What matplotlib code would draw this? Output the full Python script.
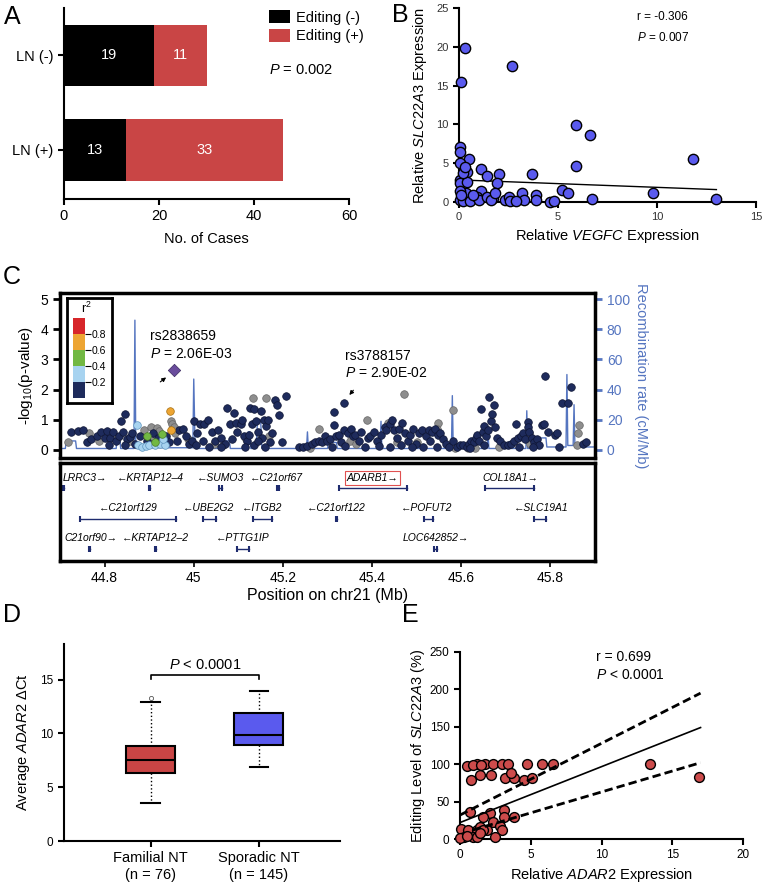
import matplotlib
matplotlib.use("Agg")
import matplotlib.pyplot as plt
import numpy as np
from matplotlib.colors import ListedColormap, BoundaryNorm
from matplotlib.cm import ScalarMappable

plt.rcParams['font.family'] = ['Liberation Sans', 'DejaVu Sans']
plt.rcParams['mathtext.fontset'] = 'custom'
plt.rcParams['mathtext.rm'] = 'Liberation Sans'
plt.rcParams['mathtext.it'] = 'Liberation Sans:italic'
plt.rcParams['mathtext.bf'] = 'Liberation Sans:bold'
plt.rcParams['axes.linewidth'] = 1.5

# ---------------- data: panel A
ln_groups = ['LN (+)', 'LN (-)']
editing_neg = [13, 19]
editing_pos = [33, 11]

# ---------------- data: panel B
vegfc = [0.3, 0.1, 2.7, 5.9, 6.6, 5.9, 11.8, 9.8, 13.0, 6.7, 5.2, 5.5, 3.7, 3.9, 3.9, 3.2, 3.3,
         4.6, 4.8, 2.0, 1.9, 1.1, 1.4, 0.5, 0.4, 0.05, 0.05, 0.05, 0.05, 0.05, 0.4, 0.35, 0.05,
         0.2, 0.55, 1.1, 0.9, 1.7, 2.3, 2.5, 2.6, 2.9, 1.0, 0.7, 1.4, 0.05, 0.1, 0.2, 0.3, 1.6, 1.8]
slc_b = [19.9, 15.4, 17.5, 9.9, 8.6, 4.7, 5.5, 1.1, 0.4, 0.4, 1.6, 1.1, 3.6, 0.9, 0.3, 1.1, 0.3,
         0.0, 0.1, 3.6, 2.5, 4.2, 3.4, 5.6, 3.9, 7.1, 6.4, 5.0, 2.8, 2.4, 2.6, 1.1, 0.3,
         0.1, 0.1, 1.4, 0.7, 0.5, 0.3, 0.6, 0.1, 0.1, 0.3, 0.9, 0.7, 1.4, 0.9, 3.7, 4.5, 0.3, 1.1]
b_fit_x = [0.5, 13.0]
b_fit_y = [2.8, 1.6]

# ---------------- data: panel C (association plot)
navy_pos = [44.725, 44.740, 44.752, 44.761, 44.770, 44.782, 44.793, 44.800,
            44.805, 44.812, 44.820, 44.825, 44.832, 44.836, 44.846, 44.842, 44.850, 44.856, 44.862, 44.868,
            44.810, 44.845, 44.880, 44.895, 44.908, 44.920, 44.938, 44.945, 44.962, 44.968, 44.975, 44.982,
            44.990, 44.995, 45.000, 45.008, 45.015, 45.022, 45.032, 45.040, 45.048, 45.055, 45.062, 45.070,
            45.075, 45.082, 45.090, 45.095, 45.098, 45.004, 45.020, 45.035, 45.060, 45.085,
            45.105, 45.108, 45.112, 45.120, 45.126, 45.130, 45.135, 45.140, 45.145, 45.150, 45.152, 45.158,
            45.163, 45.166, 45.170, 45.175, 45.182, 45.187, 45.192, 45.199, 45.208, 45.115, 45.135, 45.160,
            45.145, 45.125, 45.235, 45.245, 45.255, 45.265, 45.272, 45.280, 45.288, 45.295, 45.300,
            45.314, 45.314, 45.336, 45.305, 45.320, 45.325, 45.330, 45.338, 45.345, 45.352, 45.358, 45.362,
            45.370, 45.376, 45.383, 45.390, 45.396, 45.310, 45.340,
            45.405, 45.412, 45.420, 45.428, 45.432, 45.440, 45.445, 45.450, 45.455, 45.460, 45.468, 45.474,
            45.480, 45.486, 45.492, 45.498, 45.415, 45.440, 45.465, 45.490,
            45.505, 45.512, 45.520, 45.527, 45.535, 45.542, 45.547, 45.552, 45.560, 45.566, 45.572, 45.582,
            45.590, 45.598, 45.515, 45.545, 45.530,
            45.605, 45.612, 45.618, 45.622, 45.628, 45.632, 45.636, 45.640, 45.644, 45.648, 45.652, 45.655,
            45.660, 45.662, 45.666, 45.670, 45.673, 45.675, 45.680, 45.688, 45.695, 45.620, 45.650,
            45.705, 45.712, 45.718, 45.722, 45.728, 45.733, 45.738, 45.742, 45.750, 45.750, 45.753, 45.758,
            45.763, 45.770, 45.775, 45.780, 45.786, 45.788, 45.795, 45.760, 45.730,
            45.810, 45.815, 45.826, 45.840, 45.846, 45.872, 45.880, 45.820]
navy_val = [0.60, 0.62, 0.66, 0.25, 0.35, 0.45, 0.60, 0.40,
            0.62, 0.40, 0.58, 0.30, 0.45, 0.95, 1.18, 0.60, 0.35, 0.42, 0.55, 0.20,
            0.15, 0.15, 0.45, 0.30, 0.55, 0.40, 0.48, 0.25, 0.30, 0.66, 0.68, 0.45,
            0.20, 0.30, 0.97, 0.55, 0.85, 0.85, 0.98, 0.60, 0.30, 0.66, 0.40, 0.20,
            1.40, 0.85, 1.24, 0.90, 0.60, 0.15, 0.30, 0.10, 0.10, 0.35,
            0.85, 1.00, 0.45, 0.30, 1.40, 0.85, 1.35, 0.95, 0.60, 1.30, 0.40, 1.00,
            0.80, 1.00, 0.25, 0.55, 1.66, 1.49, 1.16, 0.25, 1.80, 0.10, 0.15, 0.10,
            0.30, 0.50, 0.10, 0.10, 0.12, 0.20, 0.25, 0.30, 0.25, 0.45, 0.30,
            1.27, 0.83, 1.55, 0.35, 0.45, 0.50, 0.28, 0.66, 0.55, 0.70, 0.45, 0.50,
            0.30, 0.60, 0.10, 0.40, 0.45, 0.10, 0.12,
            0.60, 0.30, 0.50, 0.75, 0.66, 0.85, 1.00, 0.66, 0.40, 0.70, 0.90, 0.55,
            0.30, 0.50, 0.70, 0.20, 0.12, 0.10, 0.15, 0.10,
            0.55, 0.66, 0.45, 0.66, 0.60, 0.70, 0.50, 0.55, 0.35, 0.20, 0.10, 0.30,
            0.10, 0.15, 0.10, 0.10, 0.30,
            0.15, 0.10, 0.20, 0.30, 0.25, 0.40, 0.50, 0.30, 1.35, 0.60, 0.80, 0.45,
            0.65, 1.75, 0.95, 1.20, 1.49, 0.75, 0.40, 0.30, 0.15, 0.05, 0.15,
            0.15, 0.20, 0.30, 0.85, 0.40, 0.45, 0.55, 0.35, 0.94, 0.77, 0.60, 0.40,
            0.25, 0.35, 0.15, 0.83, 0.85, 2.46, 0.60, 0.10, 0.10,
            0.50, 0.55, 1.55, 1.55, 2.08, 0.20, 0.25, 0.10]
gray_pos = [44.718, 44.765, 44.787, 44.830, 44.858, 44.888, 44.905, 44.917, 44.902, 44.923,
            44.950, 44.952, 44.955, 44.958, 44.988, 45.045, 45.065, 45.132, 45.162, 45.118,
            45.168, 45.282, 45.260, 45.389, 45.350, 45.365, 45.471, 45.436, 45.455, 45.547,
            45.545, 45.581, 45.500, 45.585, 45.615, 45.630, 45.685, 45.745, 45.755, 45.752,
            45.864, 45.862, 45.860]
gray_val = [0.28, 0.55, 0.30, 0.42, 0.30, 0.65, 0.75, 0.72, 0.35, 0.62,
            0.95, 0.85, 0.75, 0.55, 0.35, 0.20, 0.15, 1.71, 1.73, 0.35,
            0.45, 0.69, 0.08, 1.00, 0.30, 0.20, 1.86, 0.90, 0.25, 0.88,
            0.70, 1.34, 0.25, 0.05, 0.05, 0.05, 0.10, 0.40, 0.20, 0.55,
            0.83, 0.55, 0.15]
ltblue_pos = [44.872, 44.876, 44.885, 44.893, 44.900, 44.912, 44.925, 44.935, 44.930]
ltblue_val = [0.83, 0.15, 0.10, 0.12, 0.15, 0.18, 0.20, 0.15, 0.35]
green_pos = [44.895, 44.913, 44.928]
green_val = [0.47, 0.25, 0.53]
orange_pos = [44.947, 44.948]
orange_val = [1.29, 0.66]
lead_pos = [44.955]
lead_val = [2.66]

rec_pos = [44.700, 44.712, 44.714, 44.735, 44.737, 44.780, 44.826, 44.828, 44.834, 44.836,
           44.866, 44.868, 44.870, 44.872, 44.920, 44.998, 45.000, 45.003, 45.005, 45.060,
           45.062, 45.080, 45.082, 45.120, 45.122, 45.126, 45.128, 45.140, 45.143, 45.150,
           45.153, 45.200, 45.253, 45.255, 45.257, 45.300, 45.302, 45.320, 45.322, 45.380,
           45.418, 45.420, 45.422, 45.500, 45.550, 45.578, 45.580, 45.582, 45.620, 45.658,
           45.660, 45.662, 45.700, 45.745, 45.747, 45.749, 45.776, 45.778, 45.790, 45.792,
           45.835, 45.837, 45.839, 45.851, 45.853, 45.855, 45.870, 45.900]
rec_rate = [1.0, 1.0, 6.0, 6.0, 1.0, 1.0, 1.0, 9.0, 9.0, 1.0,
            1.0, 86.0, 1.0, 1.0, 1.5, 1.5, 47.0, 2.0, 1.0, 1.0,
            6.0, 6.0, 1.0, 1.0, 12.0, 12.0, 1.0, 1.0, 20.0, 20.0,
            1.0, 1.0, 1.0, 12.0, 1.0, 1.0, 5.0, 5.0, 1.0, 1.0,
            1.0, 19.0, 1.0, 1.0, 1.0, 1.0, 36.0, 1.0, 1.0, 1.0,
            12.0, 1.0, 1.0, 1.0, 26.0, 1.0, 1.0, 8.0, 8.0, 2.0,
            2.0, 50.0, 3.0, 3.0, 30.0, 2.0, 2.0, 2.0]

r2_bounds = [0.0, 0.2, 0.4, 0.6, 0.8, 1.0]
r2_colors = ['#1E2B5C', '#A7D3F0', '#72B843', '#EDA533', '#D7262A']

gene_names = ['LRRC3', 'KRTAP12\u20134', 'SUMO3', 'C21orf67', 'ADARB1', 'COL18A1',
              'C21orf129', 'UBE2G2', 'ITGB2', 'C21orf122', 'POFUT2', 'SLC19A1',
              'C21orf90', 'KRTAP12\u20132', 'PTTG1IP', 'LOC642852']
gene_start = [44.706, 44.899, 45.056, 45.187, 45.325, 45.653,
              44.745, 45.020, 45.134, 45.319, 45.516, 45.763,
              44.765, 44.913, 45.098, 45.538]
gene_end = [44.708, 44.901, 45.064, 45.191, 45.478, 45.763,
            44.960, 45.050, 45.176, 45.321, 45.536, 45.790,
            44.767, 44.915, 45.125, 45.545]
gene_row = [0, 0, 0, 0, 0, 0, 1, 1, 1, 1, 1, 1, 2, 2, 2, 2]
gene_strand = [1, -1, -1, -1, 1, 1, -1, -1, -1, -1, -1, -1, 1, -1, -1, 1]
gene_label_x = [44.756, 44.902, 45.060, 45.185, 45.401, 45.711,
                44.853, 45.033, 45.154, 45.320, 45.522, 45.779,
                44.770, 44.913, 45.109, 45.543]

# ---------------- data: panel D
d_groups = ['Familial NT\n(n = 76)', 'Sporadic NT\n(n = 145)']
d_whislo = [3.5, 6.85]
d_q1 = [6.3, 8.95]
d_med = [7.5, 9.85]
d_q3 = [8.85, 11.85]
d_whishi = [12.9, 13.95]
d_fliers = [[13.3], []]

# ---------------- data: panel E
adar2 = [0.5, 1.2, 1.8, 2.3, 3.0, 3.4, 4.7, 5.8, 6.6, 13.4, 16.9, 0.75, 1.4, 2.2, 3.2, 3.8, 4.5,
         5.1, 3.6, 0.9, 1.5, 0.7, 3.1, 3.8, 2.1, 1.6, 3.1, 2.3, 2.8, 3.0, 1.9, 2.5, 0.1, 0.6,
         1.2, 1.4, 0.9, 0.3, 0.0, 0.5, 1.2, 1.6, 1.4]
editing = [98, 100, 100, 100, 100, 100, 100, 100, 100, 100, 83, 79, 86, 86, 82, 82, 79,
           82, 88, 99, 99, 36, 39, 30, 35, 30, 30, 23, 17, 12, 12, 3, 13, 12,
           12, 16, 3, 3, 1, 4, 3, 12, 8]
e_fit_x = [0.0, 17.0]
e_fit_y = [22, 149]
e_hi_x = [0.0, 17.0]
e_hi_y = [32, 195]
e_lo_x = [0.9, 17.0]
e_lo_y = [12, 102]

RED = '#C94545'
BLUE = '#5A5AEE'
REC_BLUE = '#5575C0'

W, H = 762, 884
fig = plt.figure(figsize=(7.62, 8.84), dpi=100)


def box(l, t, r, b):
    return [l / W, 1 - b / H, (r - l) / W, (b - t) / H]


def simple_spines(ax):
    ax.spines['top'].set_visible(False)
    ax.spines['right'].set_visible(False)
    ax.tick_params(width=1.5, length=4)


# ================= A
axA = fig.add_axes(box(64, 8, 349, 199))
ypos = np.arange(len(ln_groups))
b1 = axA.barh(ypos, editing_neg, height=0.65, color='black', label='Editing (-)')
b2 = axA.barh(ypos, editing_pos, left=editing_neg, height=0.65, color=RED, label='Editing (+)')
axA.bar_label(b1, label_type='center', color='white', fontsize=10.5)
axA.bar_label(b2, label_type='center', color='white', fontsize=10.5)
axA.set_xlim(0, 60)
axA.set_ylim(-0.52, 1.5)
axA.set_xticks([0, 20, 40, 60])
axA.set_yticks(ypos)
axA.set_yticklabels(ln_groups)
axA.tick_params(labelsize=10.5)
simple_spines(axA)
axA.set_xlabel('No. of Cases', fontsize=10.5, labelpad=6)
axA.legend(loc='upper left', bbox_to_anchor=(0.70, 1.02), frameon=False, fontsize=10.5,
           handlelength=1.4, handleheight=1.0, labelspacing=0.3, handletextpad=0.4,
           borderaxespad=0)
axA.text(0.72, 0.675, '$P$ = 0.002', transform=axA.transAxes, fontsize=10.5, va='center')

# ================= B
axB = fig.add_axes(box(459, 8, 756, 202))
axB.scatter(vegfc, slc_b, s=55, color=BLUE, edgecolors='black', linewidths=1.0, zorder=3,
            clip_on=False)
axB.plot(b_fit_x, b_fit_y, color='black', lw=1.0, zorder=2)
axB.set_xlim(0, 15)
axB.set_ylim(0, 25)
axB.set_xticks([0, 5, 10, 15])
axB.set_yticks([0, 5, 10, 15, 20, 25])
simple_spines(axB)
axB.tick_params(labelsize=8, labelcolor='#333333')
axB.set_xlabel('Relative $\\mathit{VEGFC}$ Expression', fontsize=10.5, labelpad=3)
axB.set_ylabel('Relative $\\mathit{SLC22A3}$ Expression', fontsize=10.5, labelpad=5)
axB.text(0.60, 0.955, 'r = -0.306', transform=axB.transAxes, fontsize=8.5, va='center')
axB.text(0.60, 0.85, '$P$ = 0.007', transform=axB.transAxes, fontsize=8.5, va='center')

# ================= C main
axC = fig.add_axes(box(60, 293, 595, 458))
axC.plot(rec_pos, np.array(rec_rate) / 20.0, color=REC_BLUE, lw=1.0, zorder=1)
ms = 30
axC.scatter(navy_pos, navy_val, s=ms, color=r2_colors[0], edgecolors='#0E1533', linewidths=0.5,
            zorder=3)
axC.scatter(gray_pos, gray_val, s=ms, color='#8E8E8E', edgecolors='#666666', linewidths=0.5,
            zorder=2.5)
axC.scatter(ltblue_pos, ltblue_val, s=ms, color=r2_colors[1], edgecolors='#5E94BE',
            linewidths=0.5, zorder=3)
axC.scatter(green_pos, green_val, s=ms, color=r2_colors[2], edgecolors='#4A7A28',
            linewidths=0.5, zorder=3)
axC.scatter(orange_pos, orange_val, s=ms, color=r2_colors[3], edgecolors='#A66F10',
            linewidths=0.5, zorder=3)
axC.scatter(lead_pos, lead_val, s=40, marker='D', color='#6A4C9C', edgecolors='#3A2A60',
            linewidths=0.5, zorder=4)
axC.set_xlim(44.7, 45.9)
axC.set_ylim(-0.265, 5.2)
axC.set_xticks([])
axC.set_yticks([0, 1, 2, 3, 4, 5])
axC.tick_params(axis='y', width=2, length=5, labelsize=10)
for s in axC.spines.values():
    s.set_linewidth(2.5)
axC.set_ylabel('-log$_{10}$(p-value)', fontsize=11, labelpad=4)

axC.text(44.902, 3.77, 'rs2838659', fontsize=10, va='center')
axC.text(44.902, 3.18, '$P$ = 2.06E-03', fontsize=10, va='center')
axC.annotate('', xy=(44.943, 2.46), xytext=(44.920, 2.2),
             arrowprops=dict(arrowstyle='-|>', lw=0.8, color='black', mutation_scale=6))
axC.text(45.34, 3.12, 'rs3788157', fontsize=10, va='center')
axC.text(45.34, 2.55, '$P$ = 2.90E-02', fontsize=10, va='center')
axC.annotate('', xy=(45.345, 1.75), xytext=(45.362, 2.05),
             arrowprops=dict(arrowstyle='-|>', lw=0.8, color='black', mutation_scale=6))

sec = axC.secondary_yaxis('right', functions=(lambda v: v * 20.0, lambda r: r / 20.0))
sec.set_yticks([0, 20, 40, 60, 80, 100])
sec.tick_params(colors=REC_BLUE, width=2, length=5, labelsize=10)
sec.spines['right'].set_color(REC_BLUE)
sec.spines['right'].set_linewidth(2)
sec.spines['right'].set_bounds(0, 100)
sec.set_ylabel('Recombination rate (cM/Mb)', color=REC_BLUE, rotation=270, fontsize=10.5,
               labelpad=13)

# r2 legend
axL = fig.add_axes(box(67, 298, 112, 403))
axL.set_xticks([])
axL.set_yticks([])
for s in axL.spines.values():
    s.set_linewidth(2)
axL.set_zorder(5)
axL.text(0.42, 0.9, 'r$^2$', transform=axL.transAxes, ha='center', va='center', fontsize=9)
cax = fig.add_axes(box(73, 318, 85, 398))
cax.set_zorder(6)
sm = ScalarMappable(norm=BoundaryNorm(r2_bounds, len(r2_colors)),
                    cmap=ListedColormap(r2_colors))
cb = fig.colorbar(sm, cax=cax, ticks=[0.2, 0.4, 0.6, 0.8])
cb.outline.set_visible(False)
cb.ax.minorticks_off()
cb.ax.tick_params(length=4, width=0.8, labelsize=7.5, pad=1)

# ================= C genes
axG = fig.add_axes(box(60, 463, 595, 561))
axG.set_xlim(44.7, 45.9)
axG.set_ylim(0, 1)
axG.set_yticks([])
for s in axG.spines.values():
    s.set_linewidth(2.5)
row_text_y = [0.85, 0.54, 0.23]
row_mark_y = [0.74, 0.43, 0.12]
GENE = '#1E2B6E'
for i, name in enumerate(gene_names):
    r = gene_row[i]
    label = name + '\u2192' if gene_strand[i] > 0 else '\u2190' + name
    bb = None
    if name == 'ADARB1':
        bb = dict(boxstyle='square,pad=0.2', fc='none', ec='#E05050', lw=0.8)
    axG.text(gene_label_x[i], row_text_y[r], label, ha='center', va='center', fontsize=7.5,
             style='italic', bbox=bb)
    axG.plot([gene_start[i], gene_end[i]], [row_mark_y[r], row_mark_y[r]], color=GENE, lw=1.0)
    axG.plot([gene_start[i], gene_end[i]], [row_mark_y[r], row_mark_y[r]], color=GENE,
             lw=0, marker='|', markersize=5, markeredgewidth=1.5)
axG.set_xticks([44.8, 45.0, 45.2, 45.4, 45.6, 45.8])
axG.set_xticklabels(['44.8', '45', '45.2', '45.4', '45.6', '45.8'])
axG.tick_params(axis='x', labelsize=10, length=4, width=1.2)
axG.set_xlabel('Position on chr21 (Mb)', fontsize=11.5, labelpad=2)

# ================= D
axD = fig.add_axes(box(64, 644, 340, 841))
stats = []
for i in range(2):
    stats.append(dict(med=d_med[i], q1=d_q1[i], q3=d_q3[i], whislo=d_whislo[i],
                      whishi=d_whishi[i], fliers=d_fliers[i]))
bp = axD.bxp(stats, positions=[1, 2], widths=0.45, patch_artist=True, capwidths=0.17,
             boxprops=dict(linewidth=1.5, edgecolor='black'),
             whiskerprops=dict(linestyle=':', linewidth=1.0),
             capprops=dict(linewidth=1.5),
             medianprops=dict(color='black', linewidth=1.5),
             flierprops=dict(marker='o', markersize=3, markerfacecolor='none',
                             markeredgecolor='#555555', markeredgewidth=0.6))
for patch, c in zip(bp['boxes'], [RED, BLUE]):
    patch.set_facecolor(c)
axD.set_xlim(0.2, 2.75)
axD.set_ylim(0, 18.3)
axD.set_yticks([0, 5, 10, 15])
axD.set_xticks([1, 2])
axD.set_xticklabels(d_groups)
simple_spines(axD)
axD.tick_params(axis='y', labelsize=8.5)
axD.tick_params(axis='x', labelsize=10.5)
axD.set_ylabel('Average $\\mathit{ADAR2}$ \u0394Ct', fontsize=10.5, labelpad=6)
axD.plot([1, 1, 2, 2], [15.05, 15.4, 15.4, 15.05], color='black', lw=1.2)
axD.text(1.5, 16.35, '$P$ < 0.0001', ha='center', va='center', fontsize=10.5)

# ================= E
axE = fig.add_axes(box(460, 652, 743, 839))
axE.scatter(adar2, editing, s=50, color='#CC4B4B', edgecolors='black', linewidths=1.0,
            zorder=3, clip_on=False)
axE.plot(e_fit_x, e_fit_y, color='black', lw=1.2, zorder=4)
axE.plot(e_hi_x, e_hi_y, color='black', lw=2.0, ls=(0, (3, 1.5)), zorder=4)
axE.plot(e_lo_x, e_lo_y, color='black', lw=2.0, ls=(0, (3, 1.5)), zorder=4)
axE.set_xlim(0, 20)
axE.set_ylim(0, 250)
axE.set_xticks([0, 5, 10, 15, 20])
axE.set_yticks([0, 50, 100, 150, 200, 250])
simple_spines(axE)
axE.tick_params(labelsize=8.5)
axE.set_xlabel('Relative $\\mathit{ADAR2}$ Expression', fontsize=10.5, labelpad=3)
axE.set_ylabel('Editing Level of $\\mathit{SLC22A3}$ (%)', fontsize=10.5, labelpad=2)
axE.text(9.6, 243, 'r = 0.699', fontsize=10, va='center')
axE.text(9.6, 219, '$P$ < 0.0001', fontsize=10, va='center')

# panel letters
for letter, (px, py) in zip('ABCDE', [(12, 17), (400, 15), (12, 277), (12, 615), (410, 615)]):
    fig.text(px / W, 1 - py / H, letter, fontsize=18, ha='center', va='center')

fig.savefig('out.png', dpi=100)
